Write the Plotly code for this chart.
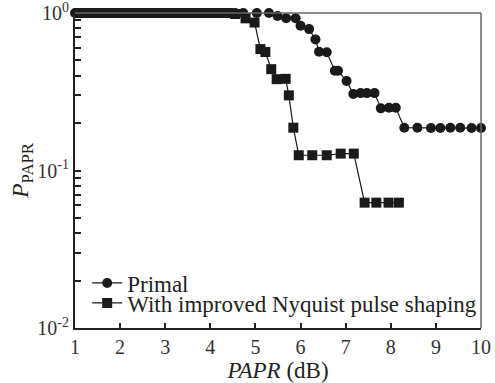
import plotly.graph_objects as go

# Primal curve
primal_x = [1.00, 1.18, 1.37, 1.55, 1.74, 1.92, 2.11, 2.29, 2.48, 2.66, 2.85, 3.03, 3.22,
            3.40, 3.59, 3.77, 3.96, 4.14, 4.33, 4.55, 4.73, 5.03, 5.30, 5.49, 5.68, 5.89,
            6.00, 6.19, 6.33, 6.41, 6.58, 6.76, 6.83, 7.02, 7.17, 7.33, 7.47, 7.64, 7.78,
            7.96, 8.11, 8.30, 8.59, 8.89, 9.10, 9.32, 9.54, 9.79, 10.0]
primal_y = [1.0, 1.0, 1.0, 1.0, 1.0, 1.0, 1.0, 1.0, 1.0, 1.0, 1.0, 1.0, 1.0,
            1.0, 1.0, 1.0, 1.0, 1.0, 1.0, 1.0, 1.0, 1.0, 1.0, 0.957, 0.925, 0.925,
            0.83, 0.79, 0.68, 0.568, 0.563, 0.43, 0.43, 0.37, 0.306, 0.31, 0.31, 0.31, 0.248,
            0.25, 0.25, 0.187, 0.187, 0.186, 0.186, 0.187, 0.187, 0.186, 0.186]

# Improved Nyquist pulse shaping curve
nyq_x = [1.08, 1.27, 1.46, 1.64, 1.83, 2.01, 2.20, 2.38, 2.57, 2.75, 2.94, 3.12, 3.31,
         3.49, 3.68, 3.86, 4.05, 4.23, 4.40, 4.55, 4.78, 4.98, 5.11, 5.22, 5.35, 5.47,
         5.67, 5.74, 5.84, 5.96, 6.26, 6.58, 6.89, 7.18, 7.42, 7.68, 7.95, 8.18]
nyq_y = [1.0, 1.0, 1.0, 1.0, 1.0, 1.0, 1.0, 1.0, 1.0, 1.0, 1.0, 1.0, 1.0,
         1.0, 1.0, 1.0, 1.0, 1.0, 1.0, 0.985, 0.925, 0.87, 0.59, 0.565, 0.44, 0.38,
         0.382, 0.30, 0.187, 0.125, 0.125, 0.125, 0.128, 0.128, 0.0625, 0.0625, 0.0625, 0.0625]

x_ticks = [1, 2, 3, 4, 5, 6, 7, 8, 9, 10]
y_tickvals = [0.01, 0.1, 1]
y_ticktext = ["10<sup>-2</sup>", "10<sup>-1</sup>", "10<sup>0</sup>"]
y_minor = [k * 0.01 for k in range(2, 10)] + [k * 0.1 for k in range(2, 10)]

FONT = "Liberation Serif"
INK = "#1a1a1a"

fig = go.Figure()
fig.add_trace(go.Scatter(
    x=primal_x, y=primal_y, mode="lines+markers", name="Primal",
    line=dict(color=INK, width=1.2),
    marker=dict(symbol="circle", size=10, color=INK),
    cliponaxis=False, legend="legend"))
fig.add_trace(go.Scatter(
    x=nyq_x, y=nyq_y, mode="lines+markers", name="With improved Nyquist pulse shaping",
    line=dict(color=INK, width=1.2),
    marker=dict(symbol="square", size=10, color=INK),
    cliponaxis=False, legend="legend2"))

legend_common = dict(xanchor="left", yanchor="middle", bgcolor="rgba(0,0,0,0)",
                     font=dict(family=FONT, size=23, color="#222"), itemwidth=30,
                     borderwidth=0)

fig.update_layout(
    width=495, height=383,
    margin=dict(l=75, r=14, t=13, b=55),
    paper_bgcolor="white", plot_bgcolor="white",
    font=dict(family=FONT, size=19, color="#222"),
    showlegend=True,
    legend=dict(x=0.03, y=(328 - 283) / 315, **legend_common),
    legend2=dict(x=0.03, y=(328 - 303) / 315, **legend_common),
    xaxis=dict(range=[1, 10], tickvals=x_ticks, ticks="inside", ticklen=5,
               tickcolor="#222", tickwidth=1.5, showline=True, linecolor="#222",
               linewidth=2, showgrid=False, zeroline=False, automargin=False,
               ticklabeloverflow="allow",
               title=dict(text="<i>PAPR</i> (dB)", standoff=6,
                          font=dict(family=FONT, size=23, color="#222")),
               tickfont=dict(family=FONT, size=20, color="#333")),
    yaxis=dict(type="log", range=[-2, 0], tickvals=y_tickvals, ticktext=y_ticktext,
               ticks="inside", ticklen=6, tickcolor="#222", tickwidth=1.5,
               showline=True, linecolor="#222", linewidth=2, showgrid=False,
               zeroline=False, automargin=False, ticklabeloverflow="allow",
               minor=dict(tickvals=y_minor, ticks="inside", ticklen=6,
                          tickcolor="#222", tickwidth=1.5, showgrid=False),
               title=dict(text="<i>P</i><sub>PAPR</sub>", standoff=2,
                          font=dict(family=FONT, size=24, color="#222")),
               tickfont=dict(family=FONT, size=20, color="#333")),
)
# top and right frame lines
fig.add_shape(type="line", xref="paper", yref="paper", x0=0, x1=1, y0=1, y1=1,
              line=dict(color="#666", width=1.5))
fig.add_shape(type="line", xref="paper", yref="paper", x0=1, x1=1, y0=0, y1=1,
              line=dict(color="#666", width=1.5))

fig.write_html("out.html")
